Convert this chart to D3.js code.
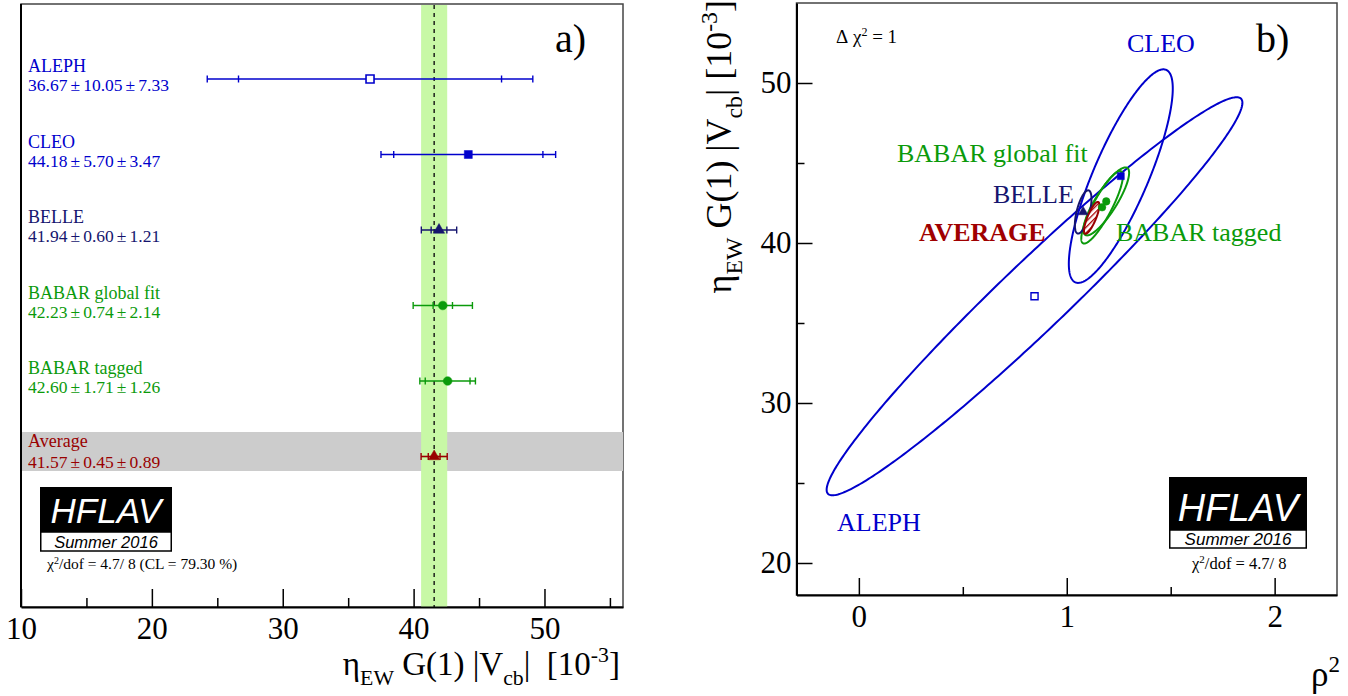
<!DOCTYPE html>
<html><head><meta charset="utf-8">
<script src="https://cdn.jsdelivr.net/npm/d3@7/dist/d3.min.js"></script>
<style>
body{margin:0;background:#fff}
svg{display:block}
text{font-family:"Liberation Serif","Times New Roman",serif}
.sans{font-family:"Liberation Sans",Arial,sans-serif}
</style>
</head><body>
<svg id="c" width="1348" height="696"></svg>
<script>
// ---------------- data ----------------
const experiments = ["ALEPH", "CLEO", "BELLE", "BABAR global fit", "BABAR tagged", "Average"];
const values      = [36.67, 44.18, 41.94, 42.23, 42.60, 41.57];
const statErr     = [10.05, 5.70, 0.60, 0.74, 1.71, 0.45];
const systErr     = [7.33, 3.47, 1.21, 2.14, 1.26, 0.89];
// rho^2 (slope) values, their uncertainties and correlation with eta G(1)|Vcb|
const rho2Values  = [0.845, 1.26, 1.079, 1.17, 1.19, 1.12];
const rho2Err     = [1.00, 0.25, 0.040, 0.10, 0.11, 0.037];
const corrCoef    = [0.972, 0.82, 0.60, 0.86, 0.84, 0.80];
const xTicksLeft  = [10, 20, 30, 40, 50];
const xMinorLeft  = [15, 25, 35, 45, 55];
const xTicksRight = [0, 1, 2];
const xMinorRight = [0.5, 1.5];
const yTicksRight = [20, 30, 40, 50];
const yMinorRight = [25, 35, 45];
const averageValue = 41.57, averageStat = 0.45, averageSyst = 0.89;
const chi2Text = "4.7/ 8", clText = "79.30 %";

// ---------------- styles ----------------
const palette = ["#0000cc", "#0000cc", "#15156e", "#0b9a0b", "#0b9a0b", "#990000"];
const symbols = [d3.symbolSquare, d3.symbolSquare, d3.symbolTriangle, d3.symbolCircle, d3.symbolCircle, d3.symbolTriangle];
const filled  = [false, true, true, true, true, true];

const svg = d3.select("#c");
const total = (i) => Math.sqrt(statErr[i] ** 2 + systErr[i] ** 2);

// pattern for average hatch
const defs = svg.append("defs");
const pat = defs.append("pattern").attr("id", "hatch").attr("patternUnits", "userSpaceOnUse")
  .attr("width", 4).attr("height", 4).attr("patternTransform", "rotate(45)");
pat.append("rect").attr("width", 4).attr("height", 4).attr("fill", "#fff");
pat.append("line").attr("x1", 0).attr("y1", 0).attr("x2", 0).attr("y2", 4)
  .attr("stroke", "#aa0000").attr("stroke-width", 2.6);

// ================= LEFT PANEL =================
const L = {x0: 21, x1: 623, y0: 4, y1: 607};
const xL = d3.scaleLinear().domain([10, 56]).range([L.x0, L.x1]);
const rowY = d3.scaleLinear().domain([0, experiments.length - 1]).range([79, 456.5]);
const gL = svg.append("g");

gL.append("rect").attr("x", L.x0).attr("y", L.y0).attr("width", L.x1 - L.x0).attr("height", L.y1 - L.y0)
  .attr("fill", "none").attr("stroke", "#444").attr("stroke-width", 1.5);

const avgIdx = experiments.length - 1;
gL.append("rect").attr("x", L.x0 + 1).attr("width", L.x1 - L.x0 - 1)
  .attr("y", rowY(avgIdx) - 24.5).attr("height", 39).attr("fill", "#cccccc");

const avgTot = Math.sqrt(averageStat ** 2 + averageSyst ** 2);
gL.append("rect").attr("x", xL(averageValue - avgTot)).attr("width", xL(averageValue + avgTot) - xL(averageValue - avgTot))
  .attr("y", L.y0 + 1).attr("height", L.y1 - L.y0 - 1).attr("fill", "#c8f8a6");
gL.append("line").attr("x1", xL(averageValue)).attr("x2", xL(averageValue)).attr("y1", L.y0 + 1).attr("y2", L.y1)
  .attr("stroke", "#111").attr("stroke-width", 1.4).attr("stroke-dasharray", "4,4");

experiments.forEach((name, i) => {
  const y = rowY(i), c = palette[i];
  const isAvg = i === avgIdx;
  gL.append("text").attr("x", 28).attr("y", y + (isAvg ? -10 : -7)).attr("fill", c)
    .attr("font-size", 18).text(name);
  gL.append("text").attr("x", 28).attr("y", y + (isAvg ? 11 : 12)).attr("fill", c)
    .attr("font-size", 17.5).attr("word-spacing", -1.3)
    .text(`${values[i].toFixed(2)} \u00b1 ${statErr[i].toFixed(2)} \u00b1 ${systErr[i].toFixed(2)}`);
  const t = total(i);
  gL.append("line").attr("x1", xL(values[i] - t)).attr("x2", xL(values[i] + t)).attr("y1", y).attr("y2", y)
    .attr("stroke", c).attr("stroke-width", 1.6);
  [values[i] - t, values[i] - statErr[i], values[i] + statErr[i], values[i] + t].forEach(v => {
    gL.append("line").attr("x1", xL(v)).attr("x2", xL(v)).attr("y1", y - 3.5).attr("y2", y + 3.5)
      .attr("stroke", c).attr("stroke-width", 1.4);
  });
  const sz = symbols[i] === d3.symbolCircle ? 60 : (symbols[i] === d3.symbolTriangle ? 55 : 64);
  gL.append("path").attr("d", d3.symbol().type(symbols[i]).size(sz)())
    .attr("transform", `translate(${xL(values[i])},${y})`)
    .attr("fill", filled[i] ? c : "#fff").attr("stroke", c).attr("stroke-width", filled[i] ? 0.5 : 1.6);
});

gL.append("g").attr("transform", `translate(0,${L.y1})`)
  .call(d3.axisBottom(xL).tickValues(xMinorLeft).tickSizeInner(-9).tickSizeOuter(0).tickFormat(""))
  .call(g => g.select(".domain").remove())
  .call(g => g.selectAll("line").attr("stroke", "#000").attr("stroke-width", 1.5));
gL.append("g").attr("transform", `translate(0,${L.y1})`)
  .call(d3.axisBottom(xL).tickValues(xTicksLeft).tickSizeInner(-18).tickSizeOuter(0).tickPadding(10))
  .call(g => g.select(".domain").attr("stroke", "#000").attr("stroke-width", 2))
  .call(g => g.selectAll("line").attr("stroke", "#000").attr("stroke-width", 1.5))
  .call(g => g.selectAll("text").attr("font-size", 31).attr("fill", "#000")
    .attr("font-family", '"Liberation Serif",serif'));
gL.append("line").attr("x1", L.x0).attr("x2", L.x0).attr("y1", L.y0).attr("y2", L.y1)
  .attr("stroke", "#000").attr("stroke-width", 2);

function vcbTitle(sel, fs, gap) {
  const sub = fs * 0.66, d = fs * 0.3, u = fs * 0.4;
  sel.append("tspan").text("\u03b7");
  sel.append("tspan").attr("font-size", sub).attr("dy", d).text("EW");
  sel.append("tspan").attr("dy", -d).text("\u00a0G(1)\u00a0|V");
  sel.append("tspan").attr("font-size", sub).attr("dy", d).text("cb");
  sel.append("tspan").attr("dy", -d).text("|" + gap + "[10");
  sel.append("tspan").attr("font-size", sub).attr("dy", -u).text("-3");
  sel.append("tspan").attr("dy", u).text("]");
}
gL.append("text").attr("x", 620).attr("y", 675).attr("text-anchor", "end").attr("font-size", 33)
  .call(s => vcbTitle(s, 33, "\u00a0\u00a0"));

gL.append("text").attr("x", 555).attr("y", 52).attr("font-size", 40).text("a)");

function logo(g, x, y, w, h1, h2, fs1, fs2) {
  g.append("rect").attr("x", x).attr("y", y).attr("width", w).attr("height", h1).attr("fill", "#000");
  g.append("rect").attr("x", x + 0.75).attr("y", y + h1).attr("width", w - 1.5).attr("height", h2)
    .attr("fill", "#fff").attr("stroke", "#000").attr("stroke-width", 1.5);
  g.append("text").attr("class", "sans").attr("x", x + w / 2).attr("y", y + h1 - 9).attr("text-anchor", "middle")
    .attr("font-size", fs1).attr("font-style", "italic").attr("fill", "#fff").text("HFLAV");
  g.append("text").attr("class", "sans").attr("x", x + w / 2).attr("y", y + h1 + h2 - 3.5).attr("text-anchor", "middle")
    .attr("font-size", fs2).attr("font-style", "italic").attr("fill", "#000").text("Summer 2016");
}
logo(gL, 40, 487, 132, 45, 19, 35, 16.5);
gL.append("text").attr("x", 47).attr("y", 569).attr("font-size", 15.5)
  .call(s => {
    s.append("tspan").text("\u03c7");
    s.append("tspan").attr("font-size", 10).attr("dy", -5.5).text("2");
    s.append("tspan").attr("dy", 5.5).text(`/dof = ${chi2Text} (CL = ${clText})`);
  });

// ================= RIGHT PANEL =================
const R = {x0: 796.5, x1: 1337, y0: 3, y1: 595};
const xR = d3.scaleLinear().domain([-0.3, 2.3]).range([R.x0, R.x1]);
const yR = d3.scaleLinear().domain([18, 55]).range([R.y1, R.y0]);
const gR = svg.append("g");

gR.append("rect").attr("x", R.x0).attr("y", R.y0).attr("width", R.x1 - R.x0).attr("height", R.y1 - R.y0)
  .attr("fill", "none").attr("stroke", "#444").attr("stroke-width", 1.5);

function ellipsePts(i) {
  const cx = rho2Values[i], cy = values[i], sx = rho2Err[i], sy = total(i), r = corrCoef[i];
  const s = Math.sqrt(1 - r * r);
  return d3.range(0, 361).map(k => {
    const t = k / 360 * 2 * Math.PI;
    return [cx + sx * Math.cos(t), cy + sy * (r * Math.cos(t) + s * Math.sin(t))];
  });
}
const lineGen = d3.line().x(d => xR(d[0])).y(d => yR(d[1]));
const order = [0, 1, 3, 4, 2, 5];
order.forEach(i => {
  gR.append("path").attr("d", lineGen(ellipsePts(i)))
    .attr("fill", i === avgIdx ? "url(#hatch)" : "none")
    .attr("stroke", palette[i]).attr("stroke-width", 2);
});
[0, 1, 2, 3, 4].forEach(i => {
  const sz = symbols[i] === d3.symbolCircle ? 45 : (symbols[i] === d3.symbolTriangle ? 40 : 50);
  gR.append("path").attr("d", d3.symbol().type(symbols[i]).size(sz)())
    .attr("transform", `translate(${xR(rho2Values[i])},${yR(values[i])})`)
    .attr("fill", filled[i] ? palette[i] : "#fff").attr("stroke", palette[i])
    .attr("stroke-width", filled[i] ? 0.5 : 1.4);
});

gR.append("g").attr("transform", `translate(0,${R.y1})`)
  .call(d3.axisBottom(xR).tickValues(xMinorRight).tickSizeInner(-8).tickSizeOuter(0).tickFormat(""))
  .call(g => g.select(".domain").remove())
  .call(g => g.selectAll("line").attr("stroke", "#000").attr("stroke-width", 1.5));
gR.append("g").attr("transform", `translate(0,${R.y1})`)
  .call(d3.axisBottom(xR).tickValues(xTicksRight).tickFormat(d3.format("d"))
    .tickSizeInner(-17).tickSizeOuter(0).tickPadding(10))
  .call(g => g.select(".domain").attr("stroke", "#000").attr("stroke-width", 2))
  .call(g => g.selectAll("line").attr("stroke", "#000").attr("stroke-width", 1.5))
  .call(g => g.selectAll("text").attr("font-size", 31).attr("fill", "#000")
    .attr("font-family", '"Liberation Serif",serif'));
gR.append("g").attr("transform", `translate(${R.x0},0)`)
  .call(d3.axisLeft(yR).tickValues(yMinorRight).tickSizeInner(-8).tickSizeOuter(0).tickFormat(""))
  .call(g => g.select(".domain").remove())
  .call(g => g.selectAll("line").attr("stroke", "#000").attr("stroke-width", 1.5));
gR.append("g").attr("transform", `translate(${R.x0},0)`)
  .call(d3.axisLeft(yR).tickValues(yTicksRight).tickSizeInner(-16).tickSizeOuter(0).tickPadding(5))
  .call(g => g.select(".domain").attr("stroke", "#000").attr("stroke-width", 2))
  .call(g => g.selectAll("line").attr("stroke", "#000").attr("stroke-width", 1.5))
  .call(g => g.selectAll("text").attr("font-size", 31).attr("fill", "#000")
    .attr("font-family", '"Liberation Serif",serif'));

gR.append("text").attr("transform", "translate(731,0) rotate(-90)").attr("text-anchor", "end")
  .attr("font-size", 36).call(s => vcbTitle(s, 36, "\u00a0"));
gR.append("text").attr("x", 1340).attr("y", 686).attr("text-anchor", "end").attr("font-size", 35)
  .call(s => {
    s.append("tspan").text("\u03c1");
    s.append("tspan").attr("font-size", 23).attr("dy", -14).text("2");
  });

gR.append("text").attr("x", 836).attr("y", 43).attr("font-size", 19)
  .call(s => {
    s.append("tspan").text("\u0394\u00a0\u03c7");
    s.append("tspan").attr("font-size", 12).attr("dy", -7).text("2");
    s.append("tspan").attr("dy", 7).text(" = 1");
  });
gR.append("text").attr("x", 1256).attr("y", 52).attr("font-size", 40).text("b)");
const ann = [
  {t: "CLEO", x: 1127, y: 52, i: 1, b: false},
  {t: "BABAR global fit", x: 897, y: 162, i: 3, b: false},
  {t: "BELLE", x: 993, y: 203, i: 2, b: false},
  {t: "AVERAGE", x: 919, y: 241, i: 5, b: true},
  {t: "BABAR tagged", x: 1116, y: 241, i: 4, b: false},
  {t: "ALEPH", x: 837, y: 531, i: 0, b: false}
];
ann.forEach(a => {
  gR.append("text").attr("x", a.x).attr("y", a.y).attr("font-size", 26)
    .attr("font-weight", a.b ? "bold" : "normal")
    .attr("fill", a.i === 5 ? "#a00000" : palette[a.i]).text(a.t);
});
logo(gR, 1169, 477, 138, 53, 18, 38, 17);
gR.append("text").attr("x", 1192).attr("y", 569).attr("font-size", 16.5)
  .call(s => {
    s.append("tspan").text("\u03c7");
    s.append("tspan").attr("font-size", 11).attr("dy", -6).text("2");
    s.append("tspan").attr("dy", 6).text(`/dof = ${chi2Text}`);
  });
</script>
</body></html>
